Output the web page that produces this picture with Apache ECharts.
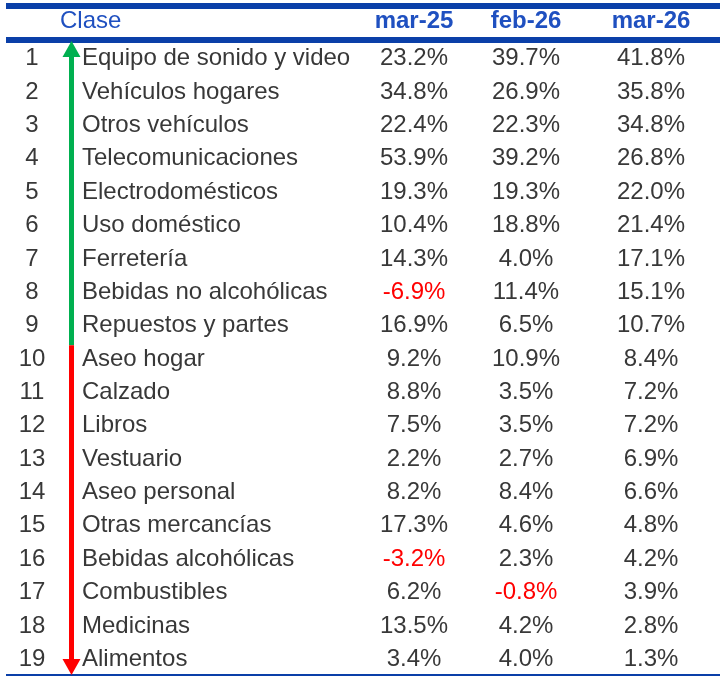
<!DOCTYPE html>
<html>
<head>
<meta charset="utf-8">
<script src="https://cdn.jsdelivr.net/npm/echarts@6/dist/echarts.min.js"></script>
<style>
  html, body { margin: 0; padding: 0; background: #fff; }
  #main { width: 720px; height: 676px; }
</style>
</head>
<body>
<div id="main"></div>
<script>
// datos de la tabla
const clases = [
  'Equipo de sonido y video', 'Vehículos hogares', 'Otros vehículos', 'Telecomunicaciones',
  'Electrodomésticos', 'Uso doméstico', 'Ferretería', 'Bebidas no alcohólicas',
  'Repuestos y partes', 'Aseo hogar', 'Calzado', 'Libros', 'Vestuario', 'Aseo personal',
  'Otras mercancías', 'Bebidas alcohólicas', 'Combustibles', 'Medicinas', 'Alimentos'
];
const periodos = ['mar-25', 'feb-26', 'mar-26'];
const mar25 = [23.2, 34.8, 22.4, 53.9, 19.3, 10.4, 14.3, -6.9, 16.9, 9.2, 8.8, 7.5, 2.2, 8.2, 17.3, -3.2, 6.2, 13.5, 3.4];
const feb26 = [39.7, 26.9, 22.3, 39.2, 19.3, 18.8, 4.0, 11.4, 6.5, 10.9, 3.5, 3.5, 2.7, 8.4, 4.6, 2.3, -0.8, 4.2, 4.0];
const mar26 = [41.8, 35.8, 34.8, 26.8, 22.0, 21.4, 17.1, 15.1, 10.7, 8.4, 7.2, 7.2, 6.9, 6.6, 4.8, 4.2, 3.9, 2.8, 1.3];
const corte = 9; // filas en verde (arriba) antes de pasar a rojo

const FONT = '"Liberation Sans", Arial, sans-serif';
const SIZE = 24;
const GRIS = '#383838';
const AZUL = '#0a3fa8';
const colX = [414, 526, 651];

const rows = clases.map((c, i) => String(i + 1));

const chart = echarts.init(document.getElementById('main'), null, { renderer: 'canvas' });

function textSeries(name, data, x, align, colorFn) {
  return {
    name: name,
    type: 'scatter',
    symbolSize: 0,
    silent: true,
    itemStyle: { opacity: 1 },
    data: data.map((v, i) => ({
      value: [x, rows[i]],
      label: { color: colorFn ? colorFn(v) : GRIS }
    })),
    label: {
      show: true,
      position: 'inside',
      align: align,
      verticalAlign: 'middle',
      fontFamily: FONT,
      fontSize: SIZE,
      opacity: 1,
      formatter: (p) => p.data.text
    }
  };
}

function pct(arr) {
  return arr.map((v) => v.toFixed(1) + '%');
}

const seriesList = [];
[
  ['num', rows, 32, 'center'],
  ['clase', clases, 82, 'left']
].forEach(([n, arr, x, al]) => {
  const s = textSeries(n, arr, x, al);
  s.data.forEach((d, i) => (d.text = arr[i]));
  seriesList.push(s);
});
[mar25, feb26, mar26].forEach((arr, k) => {
  const s = textSeries(periodos[k], arr, colX[k], 'center', (v) => (v < 0 ? '#ff0000' : GRIS));
  const txt = pct(arr);
  s.data.forEach((d, i) => (d.text = txt[i]));
  seriesList.push(s);
});

const option = {
  animation: false,
  backgroundColor: '#fff',
  grid: { left: 0, right: 0, top: 42, bottom: 0 },
  xAxis: { type: 'value', min: 0, max: 720, show: false },
  yAxis: { type: 'category', data: rows, inverse: true, show: false },
  series: seriesList
};
chart.setOption(option);

// cabecera, líneas y flecha
const yTop = 41;
const yMid = (chart.convertToPixel({ yAxisIndex: 0 }, rows[corte - 1]) +
  chart.convertToPixel({ yAxisIndex: 0 }, rows[corte])) / 2 + 3;
const yBot = 675;
const ax = 71.5;

chart.setOption({
  graphic: [
    { type: 'rect', shape: { x: 6, y: 3, width: 714, height: 6 }, style: { fill: AZUL } },
    { type: 'rect', shape: { x: 6, y: 37, width: 714, height: 6 }, style: { fill: AZUL } },
    { type: 'rect', shape: { x: 6, y: 674, width: 714, height: 2 }, style: { fill: AZUL } },
    { type: 'text', x: 60, y: 21, style: { text: 'Clase', fill: '#1f50c0', font: SIZE + 'px ' + FONT, align: 'left', verticalAlign: 'middle' } }
  ].concat(periodos.map((p, k) => ({
    type: 'text', x: colX[k], y: 21,
    style: { text: p, fill: '#1f50c0', font: 'bold ' + SIZE + 'px ' + FONT, align: 'center', verticalAlign: 'middle' }
  }))).concat([
    { type: 'rect', shape: { x: ax - 2.5, y: yTop + 14, width: 5, height: yMid - yTop - 14 }, style: { fill: '#00b050' } },
    { type: 'polygon', shape: { points: [[ax, yTop], [ax - 9, yTop + 16], [ax + 9, yTop + 16]] }, style: { fill: '#00b050' } },
    { type: 'rect', shape: { x: ax - 2.5, y: yMid, width: 5, height: yBot - yMid - 14 }, style: { fill: '#ff0000' } },
    { type: 'polygon', shape: { points: [[ax, yBot], [ax - 9, yBot - 16], [ax + 9, yBot - 16]] }, style: { fill: '#ff0000' } }
  ])
});

window.addEventListener('resize', () => {
  chart.resize();
});
</script>
</body>
</html>
